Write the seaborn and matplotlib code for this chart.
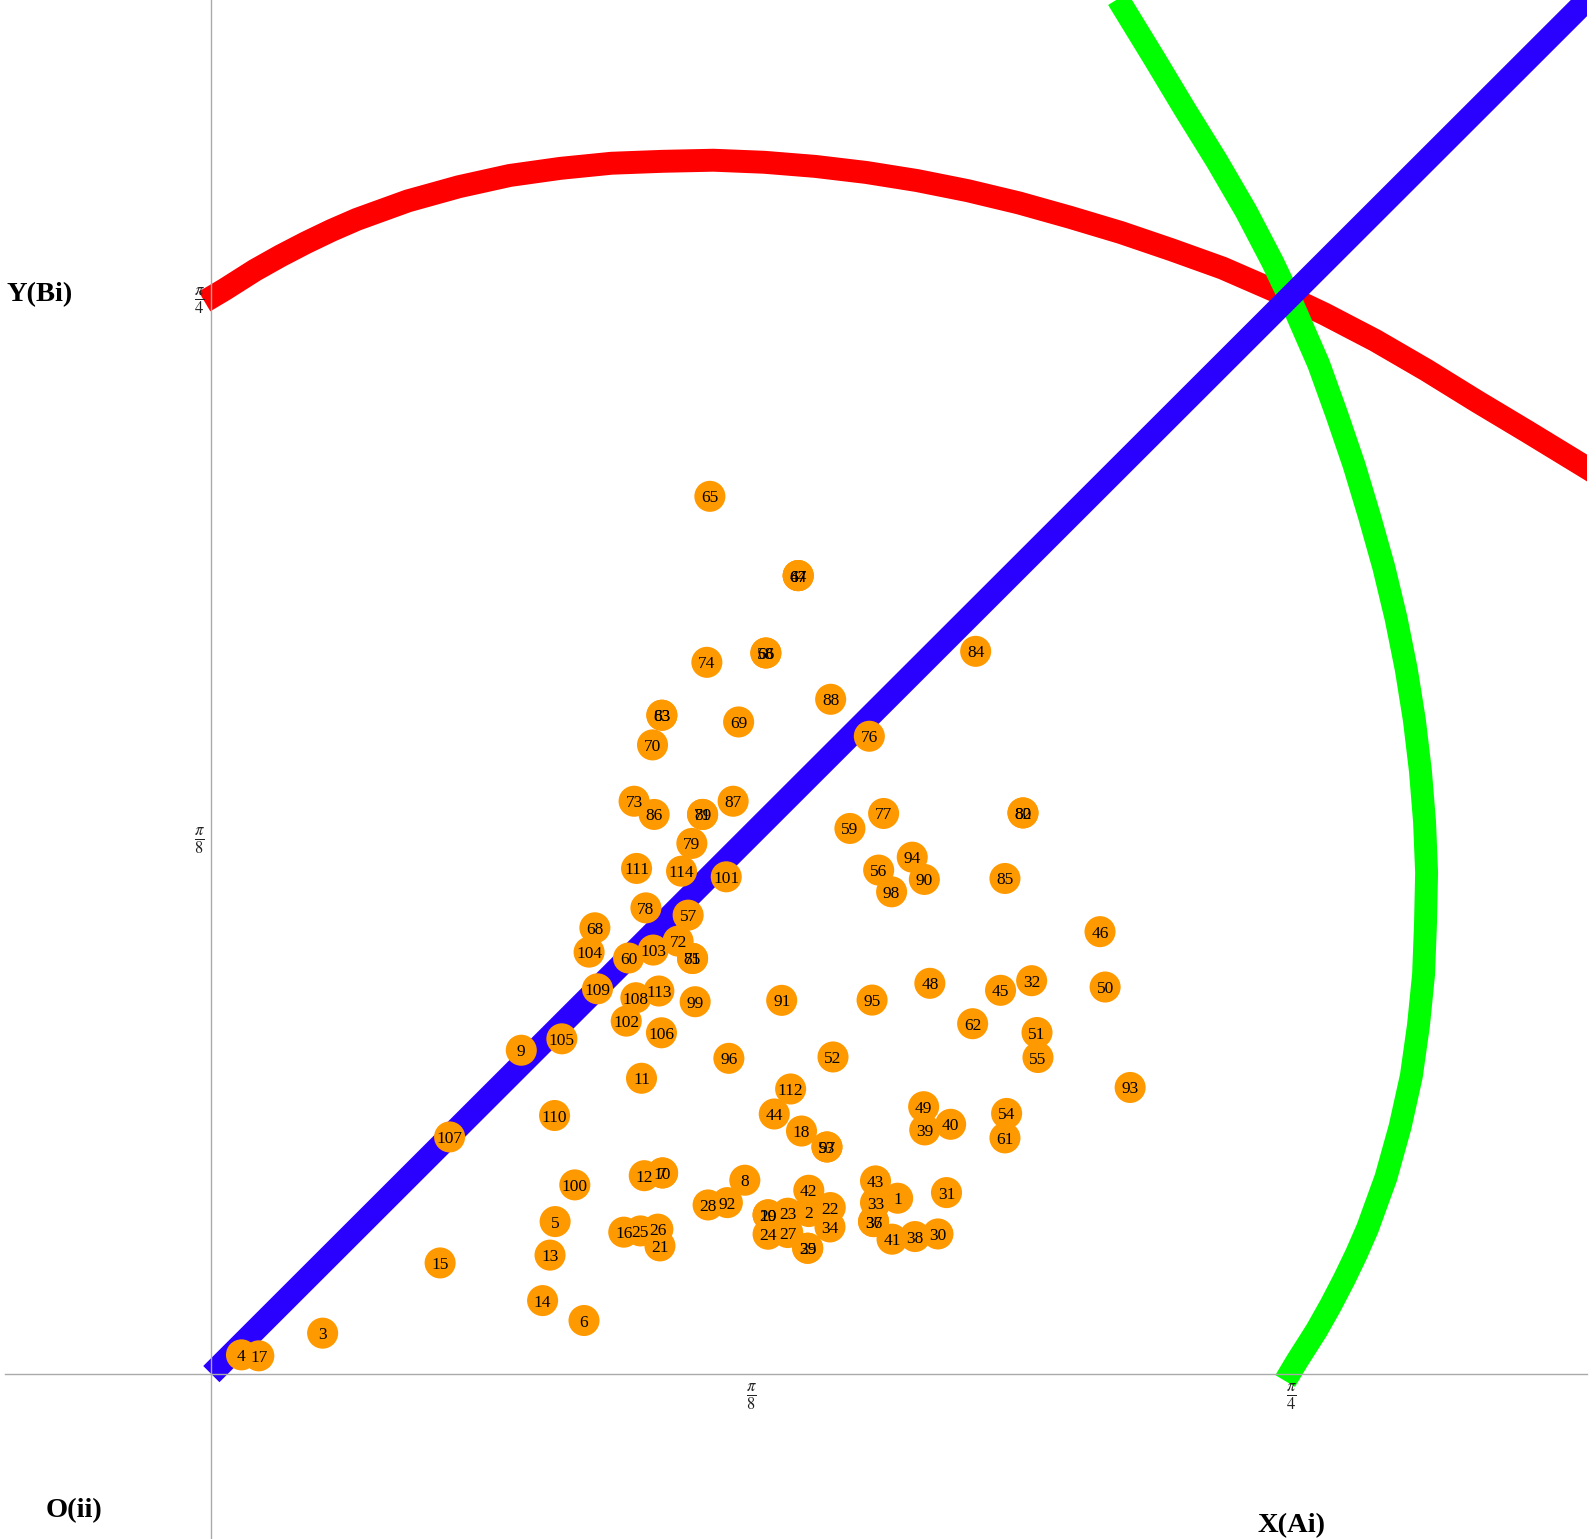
import numpy as np
import pandas as pd
import matplotlib
matplotlib.use("Agg")
import matplotlib.pyplot as plt
import seaborn as sns

# ---------------- data ----------------
labels = list(range(1, 115))
pt_x = [0.4989, 0.4343, 0.0809, 0.0219, 0.2499, 0.2709, 0.3280, 0.3878, 0.2253, 0.3280,
        0.3127, 0.3147, 0.2462, 0.2408, 0.1663, 0.2998, 0.0345, 0.4290, 0.4047, 0.4047,
        0.3261, 0.4499, 0.4190, 0.4047, 0.3119, 0.3246, 0.4190, 0.3611, 0.4335, 0.5282,
        0.5344, 0.5963, 0.4828, 0.4497, 0.4335, 0.4814, 0.4814, 0.5115, 0.5186, 0.5374,
        0.4948, 0.4343, 0.4828, 0.4092, 0.5737, 0.6460, 0.4266, 0.5223, 0.5178, 0.6497,
        0.6002, 0.4519, 0.4475, 0.5781, 0.6009, 0.4851, 0.3466, 0.4031, 0.4642, 0.3033,
        0.5769, 0.5534, 0.3275, 0.4266, 0.3624, 0.4031, 0.4266, 0.2788, 0.3833, 0.3207,
        0.3571, 0.3393, 0.3073, 0.3602, 0.3498, 0.4783, 0.4887, 0.3159, 0.3493, 0.5900,
        0.3498, 0.5900, 0.3275, 0.5556, 0.5769, 0.3219, 0.3793, 0.4502, 0.3571, 0.5183,
        0.4146, 0.3751, 0.6679, 0.5095, 0.4803, 0.3762, 0.4475, 0.4945, 0.3517, 0.2642,
        0.3743, 0.3016, 0.3212, 0.2746, 0.2548, 0.3272, 0.1732, 0.3086, 0.2807, 0.2495,
        0.3091, 0.4211, 0.3253, 0.3418]
pt_y = [0.1280, 0.1183, 0.0298, 0.0140, 0.1110, 0.0390, 0.1464, 0.1411, 0.2357, 0.1464,
        0.2153, 0.1444, 0.0866, 0.0535, 0.0809, 0.1033, 0.0133, 0.1769, 0.1159, 0.1159,
        0.0933, 0.1212, 0.1171, 0.1018, 0.1042, 0.1055, 0.1030, 0.1231, 0.0916, 0.1020,
        0.1321, 0.2863, 0.1248, 0.1071, 0.0916, 0.1110, 0.1110, 0.1001, 0.1777, 0.1818,
        0.0982, 0.1338, 0.1406, 0.1893, 0.2793, 0.3220, 0.5811, 0.2844, 0.1946, 0.2817,
        0.2486, 0.2308, 0.1653, 0.1897, 0.2304, 0.3668, 0.3340, 0.5248, 0.3971, 0.3028,
        0.1719, 0.2550, 0.4795, 0.5811, 0.6388, 0.5248, 0.5811, 0.3248, 0.4746, 0.4579,
        0.4073, 0.3151, 0.4169, 0.5180, 0.3025, 0.4642, 0.4080, 0.3393, 0.3862, 0.4084,
        0.3025, 0.4084, 0.4795, 0.5260, 0.3607, 0.4073, 0.4169, 0.4911, 0.4073, 0.3600,
        0.2720, 0.1248, 0.2086, 0.3762, 0.2722, 0.2298, 0.1653, 0.3510, 0.2710, 0.1377,
        0.3619, 0.2569, 0.3086, 0.3071, 0.2440, 0.2484, 0.1726, 0.2739, 0.2804, 0.1882,
        0.3680, 0.2075, 0.2788, 0.3660]

# centre line of the red band
red_x = [-0.005, 0.0096, 0.0318, 0.0503, 0.0688, 0.0873, 0.1059, 0.1244, 0.1429, 0.1799,
         0.2169, 0.2539, 0.2909, 0.3280, 0.3650, 0.4020, 0.4390, 0.4760, 0.5130, 0.5500,
         0.5871, 0.6241, 0.6611, 0.6981, 0.7351, 0.7810, 0.8092, 0.8462, 0.8832, 0.9202,
         0.9572, 1.0009, 1.0164]
red_y = [0.7806, 0.7893, 0.8034, 0.8138, 0.8234, 0.8323, 0.8404, 0.8471, 0.8538, 0.8641,
         0.8723, 0.8775, 0.8812, 0.8826, 0.8834, 0.8819, 0.8789, 0.8745, 0.8686, 0.8612,
         0.8523, 0.8419, 0.8308, 0.8182, 0.8049, 0.7849, 0.7715, 0.7522, 0.7307, 0.7078,
         0.6856, 0.6589, 0.6493]
# green band: the same arc seen across the diagonal
green_x = [0.7806, 0.7893, 0.8034, 0.8138, 0.8234, 0.8323, 0.8404, 0.8471, 0.8538, 0.8641,
           0.8723, 0.8775, 0.8812, 0.8826, 0.8834, 0.8819, 0.8789, 0.8745, 0.8686, 0.8612,
           0.8523, 0.8419, 0.8308, 0.8182, 0.8049, 0.7849, 0.7715, 0.7522, 0.7307, 0.7078,
           0.6856, 0.6589, 0.6493]
green_y = [-0.005, 0.0096, 0.0318, 0.0503, 0.0688, 0.0873, 0.1059, 0.1244, 0.1429, 0.1799,
           0.2169, 0.2539, 0.2909, 0.3280, 0.3650, 0.4020, 0.4390, 0.4760, 0.5130, 0.5500,
           0.5871, 0.6241, 0.6611, 0.6981, 0.7351, 0.7810, 0.8092, 0.8462, 0.8832, 0.9202,
           0.9572, 1.0009, 1.0164]
blue_x = [0.0, 1.05]
blue_y = [0.0, 1.05]

tick_vals = [np.pi / 8, np.pi / 4]
tick_labels = [r"$\frac{\pi}{8}$", r"$\frac{\pi}{4}$"]

corner_text = ["Y(Bi)", "O(ii)", "X(Ai)"]
corner_x = [-0.125, -0.100, np.pi / 4]
corner_y = [np.pi / 4, -0.099, -0.110]

# ---------------- figure ----------------
sns.set_theme(style="white")
plt.rcParams["font.family"] = ["Liberation Serif", "DejaVu Serif"]
plt.rcParams["mathtext.fontset"] = "stix"

W, H = 1596, 1539
fig = plt.figure(figsize=(W / 100, H / 100), dpi=100)
ax = fig.add_axes([5 / W, 0, 1582 / W, 1])
ax.set_xlim(-0.15, 1.0)
ax.set_ylim(-0.12, 1.0)

lw = 16.5
sns.lineplot(x=red_x, y=red_y, sort=False, estimator=None, color="#ff0000",
             linewidth=lw, solid_capstyle="butt", solid_joinstyle="round", ax=ax, zorder=1)
sns.lineplot(x=green_x, y=green_y, sort=False, estimator=None, color="#00ff00",
             linewidth=lw, solid_capstyle="butt", solid_joinstyle="round", ax=ax, zorder=1.1)
sns.lineplot(x=blue_x, y=blue_y, sort=False, estimator=None, color="#2a00ff",
             linewidth=lw, solid_capstyle="butt", ax=ax, zorder=1.2)

pts = pd.DataFrame({"x": pt_x, "y": pt_y, "label": labels})
sns.scatterplot(data=pts, x="x", y="y", color="#ff9900", s=500, linewidth=0,
                edgecolor="none", ax=ax, zorder=4, legend=False)
for xv, yv, lab in zip(pts["x"], pts["y"], pts["label"]):
    ax.text(xv, yv, str(lab), ha="center", va="center_baseline", fontsize=12.5,
            color="black", zorder=5)

for t, xv, yv in zip(corner_text, corner_x, corner_y):
    ax.text(xv, yv, t, ha="center", va="center", fontsize=20.5, fontweight="bold",
            color="black", zorder=6)

# axes through the origin
for side in ["top", "right"]:
    ax.spines[side].set_visible(False)
ax.spines["left"].set_position(("data", 0))
ax.spines["bottom"].set_position(("data", 0))
for side in ["left", "bottom"]:
    ax.spines[side].set_color("#aaaaaa")
    ax.spines[side].set_linewidth(1.0)
    ax.spines[side].set_zorder(3)
ax.set_xticks(tick_vals)
ax.set_xticklabels(tick_labels)
ax.set_yticks(tick_vals)
ax.set_yticklabels(tick_labels)
ax.tick_params(axis="both", direction="in", length=5, width=0.8, color="#aaaaaa",
               labelsize=17, labelcolor="#222222")
ax.tick_params(axis="x", pad=5)
ax.tick_params(axis="y", pad=5)
ax.xaxis.set_zorder(3)
ax.yaxis.set_zorder(3)
ax.set_xlabel("")
ax.set_ylabel("")
ax.patch.set_alpha(0)

fig.savefig("out.png", dpi=100)
